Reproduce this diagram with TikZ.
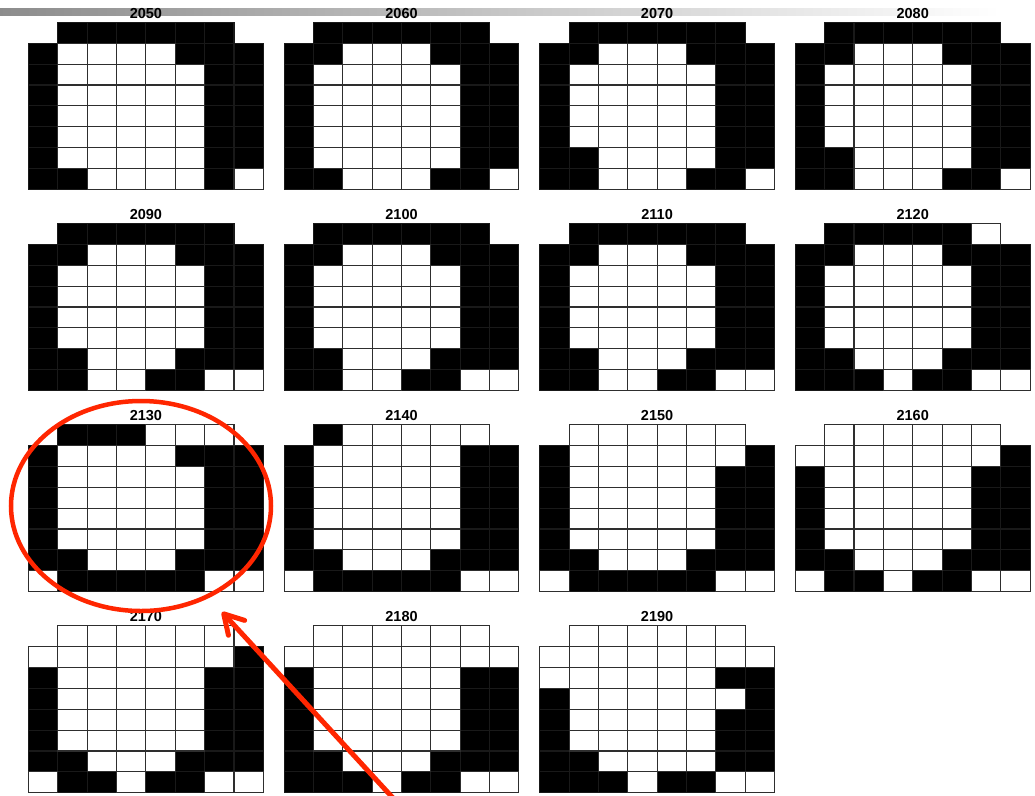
\documentclass[tikz,border=0pt]{standalone}
\usepackage{fontspec}
\setmainfont{Liberation Sans}
\usetikzlibrary{arrows.meta}
\definecolor{annot}{RGB}{255,38,0}
\tikzset{
  paneltitle/.style={anchor=base,inner sep=0pt,font=\bfseries\fontsize{14.5}{14.5}\selectfont},
  whitecell/.style={fill=white,draw=black!82,line width=1.1pt},
  blackcell/.style={fill=black,draw=black!90,line width=1.1pt},
  annotline/.style={draw=annot,line width=4.5pt},
  annotarrow/.style={draw=annot,line width=5pt,line cap=round,-{Straight Barb[length=19pt,width=22pt,round]}}
}
\newcommand\cellw{29.35}
\newcommand\cellh{20.9}
% #1 x0, #2 y0, #3 title, #4 name, #5 rows
\newcommand\drawpanel[5]{%
  \foreach \rowdata [count=\rr from 0] in {#5}{%
    \foreach \v [count=\cc from 0] in \rowdata{%
      \ifnum\v=1
        \path[blackcell] (#1+\cc*\cellw,#2+\rr*\cellh) rectangle ++(\cellw,\cellh);
      \fi
    }%
  }%
  \foreach \rowdata [count=\rr from 0] in {#5}{%
    \foreach \v [count=\cc from 0] in \rowdata{%
      \ifnum\v=0
        \path[whitecell] (#1+\cc*\cellw,#2+\rr*\cellh) rectangle ++(\cellw,\cellh);
      \fi
    }%
  }%
  \node[paneltitle] (#4) at (#1+117.4,#2-4) {#3};
}
\begin{document}
\begin{tikzpicture}[x=1pt,y=-1pt]
\useasboundingbox (0,0) rectangle (1035,795);
\fill[white] (0,0) rectangle (1035,795);
\shade[left color=black!45,right color=white] (0,8) rectangle (1000,15);

% row 1
\drawpanel{28.5}{22.3}{2050}{t2050}{{2,1,1,1,1,1,1,2},{1,0,0,0,0,1,1,1},{1,0,0,0,0,0,1,1},{1,0,0,0,0,0,1,1},{1,0,0,0,0,0,1,1},{1,0,0,0,0,0,1,1},{1,0,0,0,0,0,1,1},{1,1,0,0,0,0,1,0}}
\drawpanel{284.1}{22.3}{2060}{t2060}{{2,1,1,1,1,1,1,2},{1,1,0,0,0,1,1,1},{1,0,0,0,0,0,1,1},{1,0,0,0,0,0,1,1},{1,0,0,0,0,0,1,1},{1,0,0,0,0,0,1,1},{1,0,0,0,0,0,1,1},{1,1,0,0,0,1,1,0}}
\drawpanel{539.7}{22.3}{2070}{t2070}{{2,1,1,1,1,1,1,2},{1,1,0,0,0,1,1,1},{1,0,0,0,0,0,1,1},{1,0,0,0,0,0,1,1},{1,0,0,0,0,0,1,1},{1,0,0,0,0,0,1,1},{1,1,0,0,0,0,1,1},{1,1,0,0,0,1,1,0}}
\drawpanel{795.3}{22.3}{2080}{t2080}{{2,1,1,1,1,1,1,2},{1,1,0,0,0,1,1,1},{1,0,0,0,0,0,1,1},{1,0,0,0,0,0,1,1},{1,0,0,0,0,0,1,1},{1,0,0,0,0,0,1,1},{1,1,0,0,0,0,1,1},{1,1,0,0,0,1,1,0}}
% row 2
\drawpanel{28.5}{223.4}{2090}{t2090}{{2,1,1,1,1,1,1,2},{1,1,0,0,0,1,1,1},{1,0,0,0,0,0,1,1},{1,0,0,0,0,0,1,1},{1,0,0,0,0,0,1,1},{1,0,0,0,0,0,1,1},{1,1,0,0,0,1,1,1},{1,1,0,0,1,1,0,0}}
\drawpanel{284.1}{223.4}{2100}{t2100}{{2,1,1,1,1,1,1,2},{1,1,0,0,0,1,1,1},{1,0,0,0,0,0,1,1},{1,0,0,0,0,0,1,1},{1,0,0,0,0,0,1,1},{1,0,0,0,0,0,1,1},{1,1,0,0,0,1,1,1},{1,1,0,0,1,1,0,0}}
\drawpanel{539.7}{223.4}{2110}{t2110}{{2,1,1,1,1,1,1,2},{1,1,0,0,0,1,1,1},{1,0,0,0,0,0,1,1},{1,0,0,0,0,0,1,1},{1,0,0,0,0,0,1,1},{1,0,0,0,0,0,1,1},{1,1,0,0,0,1,1,1},{1,1,0,0,1,1,0,0}}
\drawpanel{795.3}{223.4}{2120}{t2120}{{2,1,1,1,1,1,0,2},{1,1,0,0,0,1,1,1},{1,0,0,0,0,0,1,1},{1,0,0,0,0,0,1,1},{1,0,0,0,0,0,1,1},{1,0,0,0,0,0,1,1},{1,1,0,0,0,1,1,1},{1,1,1,0,1,1,0,0}}
% row 3
\drawpanel{28.5}{424.5}{2130}{t2130}{{2,1,1,1,0,0,0,2},{1,0,0,0,0,1,1,1},{1,0,0,0,0,0,1,1},{1,0,0,0,0,0,1,1},{1,0,0,0,0,0,1,1},{1,0,0,0,0,0,1,1},{1,1,0,0,0,1,1,1},{0,1,1,1,1,1,0,0}}
\drawpanel{284.1}{424.5}{2140}{t2140}{{2,1,0,0,0,0,0,2},{1,0,0,0,0,0,1,1},{1,0,0,0,0,0,1,1},{1,0,0,0,0,0,1,1},{1,0,0,0,0,0,1,1},{1,0,0,0,0,0,1,1},{1,1,0,0,0,1,1,1},{0,1,1,1,1,1,0,0}}
\drawpanel{539.7}{424.5}{2150}{t2150}{{2,0,0,0,0,0,0,2},{1,0,0,0,0,0,0,1},{1,0,0,0,0,0,1,1},{1,0,0,0,0,0,1,1},{1,0,0,0,0,0,1,1},{1,0,0,0,0,0,1,1},{1,1,0,0,0,1,1,1},{0,1,1,1,1,1,0,0}}
\drawpanel{795.3}{424.5}{2160}{t2160}{{2,0,0,0,0,0,0,2},{0,0,0,0,0,0,0,1},{1,0,0,0,0,0,1,1},{1,0,0,0,0,0,1,1},{1,0,0,0,0,0,1,1},{1,0,0,0,0,0,1,1},{1,1,0,0,0,1,1,1},{0,1,1,0,1,1,0,0}}
% row 4
\drawpanel{28.5}{625.6}{2170}{t2170}{{2,0,0,0,0,0,0,2},{0,0,0,0,0,0,0,1},{1,0,0,0,0,0,1,1},{1,0,0,0,0,0,1,1},{1,0,0,0,0,0,1,1},{1,0,0,0,0,0,1,1},{1,1,0,0,0,1,1,1},{0,1,1,0,1,1,0,0}}
\drawpanel{284.1}{625.6}{2180}{t2180}{{2,0,0,0,0,0,0,2},{0,0,0,0,0,0,0,0},{1,0,0,0,0,0,1,1},{1,0,0,0,0,0,1,1},{1,0,0,0,0,0,1,1},{1,0,0,0,0,0,1,1},{1,1,0,0,0,1,1,1},{1,1,1,0,1,1,0,0}}
\drawpanel{539.7}{625.6}{2190}{t2190}{{2,0,0,0,0,0,0,2},{0,0,0,0,0,0,0,0},{0,0,0,0,0,0,1,1},{1,0,0,0,0,0,0,1},{1,0,0,0,0,0,1,1},{1,0,0,0,0,0,1,1},{1,1,0,0,0,0,1,1},{1,1,1,0,1,1,0,0}}

% annotation
\draw[annotline] (141,506) ellipse [x radius=130, y radius=105];
\coordinate (arrowstart) at (393,798);
\coordinate (arrowtip) at (222,612);
\draw[annotarrow] (arrowstart) -- (arrowtip);
\end{tikzpicture}
\end{document}
